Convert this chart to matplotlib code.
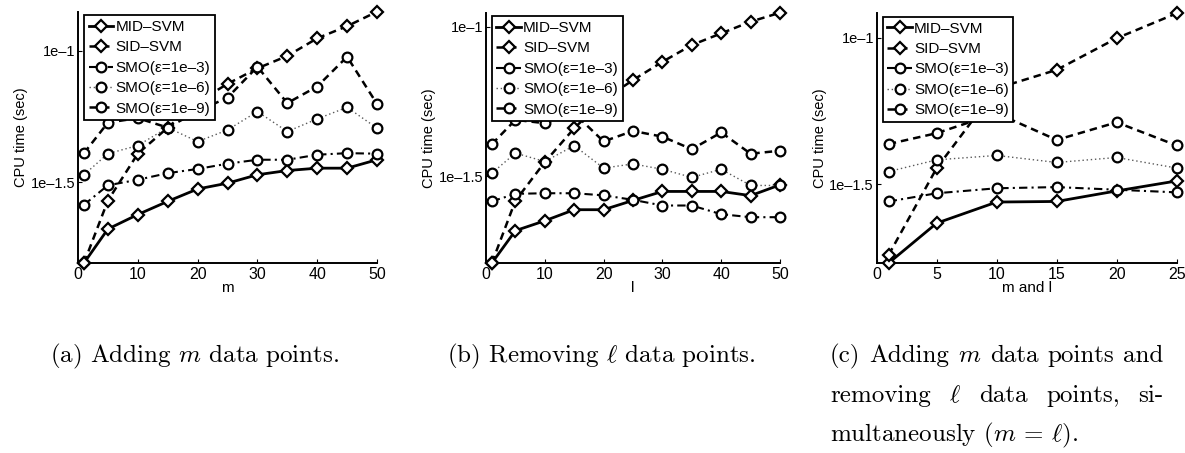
import numpy as np
import matplotlib
matplotlib.use("Agg")
import matplotlib.pyplot as plt

plt.rcParams["mathtext.fontset"] = "cm"

# x values of each panel
x_add = [1, 5, 10, 15, 20, 25, 30, 35, 40, 45, 50]
x_rem = [1, 5, 10, 15, 20, 25, 30, 35, 40, 45, 50]
x_both = [1, 5, 10, 15, 20, 25]

# log10 of CPU time (sec)
mid_a = [-1.806, -1.677, -1.622, -1.572, -1.525, -1.503, -1.471, -1.455, -1.446, -1.446, -1.414]
sid_a = [-1.806, -1.569, -1.391, -1.292, -1.195, -1.126, -1.067, -1.020, -0.953, -0.907, -0.852]
smo3_a = [-1.585, -1.511, -1.490, -1.465, -1.449, -1.429, -1.414, -1.414, -1.395, -1.389, -1.391]
smo6_a = [-1.471, -1.391, -1.360, -1.292, -1.345, -1.301, -1.231, -1.307, -1.259, -1.215, -1.294]
smo9_a = [-1.389, -1.273, -1.256, -1.292, -1.230, -1.178, -1.061, -1.199, -1.136, -1.023, -1.202]

mid_b = [-1.789, -1.681, -1.648, -1.611, -1.611, -1.580, -1.550, -1.550, -1.550, -1.564, -1.528]
sid_b = [-1.789, -1.581, -1.452, -1.339, -1.244, -1.178, -1.117, -1.061, -1.022, -0.983, -0.953]
smo3_b = [-1.583, -1.558, -1.556, -1.556, -1.563, -1.578, -1.597, -1.597, -1.626, -1.636, -1.636]
smo6_b = [-1.489, -1.422, -1.450, -1.397, -1.472, -1.458, -1.476, -1.503, -1.476, -1.530, -1.530]
smo9_b = [-1.392, -1.311, -1.322, -1.289, -1.383, -1.348, -1.367, -1.409, -1.353, -1.424, -1.414]

mid_c = [-1.769, -1.633, -1.561, -1.559, -1.523, -1.489]
sid_c = [-1.741, -1.445, -1.173, -1.110, -1.002, -0.917]
smo3_c = [-1.559, -1.531, -1.514, -1.510, -1.519, -1.528]
smo6_c = [-1.457, -1.417, -1.402, -1.426, -1.409, -1.445]
smo9_c = [-1.363, -1.326, -1.258, -1.349, -1.289, -1.368]

labels = ["MID\u2013SVM", "SID\u2013SVM", "SMO(\u03b5=1e\u20133)", "SMO(\u03b5=1e\u20136)", "SMO(\u03b5=1e\u20139)"]
styles = [dict(ls="-", marker="D", lw=2.0, ms=6),
          dict(ls=(0, (3, 2)), marker="D", lw=1.8, ms=6),
          dict(ls=(0, (4, 2, 1, 2)), marker="o", lw=1.5, ms=7),
          dict(ls=(0, (1, 2)), marker="o", lw=1.0, ms=7, color="0.35"),
          dict(ls=(0, (3, 2)), marker="o", lw=1.8, ms=7)]

TF = "Liberation Sans"

fig = plt.figure(figsize=(11.85, 4.53), dpi=100)
W, H = 1185.0, 453.0
rects = [(78, 377, 11.7), (486, 780, 12.7), (876.7, 1176.7, 13.3)]
panels = [(x_add, [mid_a, sid_a, smo3_a, smo6_a, smo9_a], (0, 50), [0, 10, 20, 30, 40, 50], "m"),
          (x_rem, [mid_b, sid_b, smo3_b, smo6_b, smo9_b], (0, 50), [0, 10, 20, 30, 40, 50], "l"),
          (x_both, [mid_c, sid_c, smo3_c, smo6_c, smo9_c], (0, 25), [0, 5, 10, 15, 20, 25], "m and l")]

for (l, r, t), (xs, series, xlim, xt, xl) in zip(rects, panels):
    ax = fig.add_axes([l / W, (H - 263) / H, (r - l) / W, (263 - t) / H])
    lo = min(min(s) for s in series)
    hi = max(max(s) for s in series)
    for s, lab, st in zip(series, labels, styles):
        st = dict(st)
        col = st.pop("color", "black")
        ax.plot(xs, 10 ** np.array(s), color=col, label=lab,
                markerfacecolor="white", markeredgecolor="black",
                markeredgewidth=1.6, clip_on=False, zorder=3, **st)
    ax.set_yscale("log")
    ax.set_ylim(10 ** lo, 10 ** hi)
    ax.set_xlim(*xlim)
    ax.set_xticks(xt)
    ax.set_xticklabels([str(v) for v in xt], fontfamily=TF, fontsize=11.5)
    ax.set_yticks([10 ** -1.5, 10 ** -1])
    ax.set_yticklabels(["1e\u20131.5", "1e\u20131"], fontfamily=TF, fontsize=10.5)
    ax.yaxis.set_minor_locator(matplotlib.ticker.NullLocator())
    ax.tick_params(direction="in", length=3, width=0.8, pad=2)
    ax.tick_params(axis="x", pad=3)
    for sp in ("top", "right"):
        ax.spines[sp].set_visible(False)
    for sp in ("left", "bottom"):
        ax.spines[sp].set_linewidth(1.4)
    ax.set_xlabel(xl, fontfamily=TF, fontsize=11, labelpad=-1)
    ax.set_ylabel("CPU time (sec)", fontfamily=TF, fontsize=10.5, labelpad=2)
    leg = ax.legend(loc="upper left", bbox_to_anchor=(0.02, 0.985), prop=dict(family=TF, size=11),
                    frameon=True, fancybox=False, framealpha=1, edgecolor="black",
                    handlelength=1.6, handletextpad=0.15, borderpad=0.3, labelspacing=0.42,
                    borderaxespad=0.0)
    leg.get_frame().set_linewidth(1.3)
    leg.set_zorder(5)

# captions
CF = dict(fontfamily="cmr10", fontsize=18, color="black")
fig.text(50 / W, 1 - 362 / H, "(a) Adding $m$ data points.", ha="left", va="baseline", **CF)
fig.text(447 / W, 1 - 362 / H, "(b) Removing $\\ell$ data points.", ha="left", va="baseline", **CF)

renderer = fig.canvas.get_renderer()


def justified(words, x0, x1, ybase):
    objs = [fig.text(0, 1 - ybase / H, w, ha="left", va="baseline", **CF) for w in words]
    widths = [o.get_window_extent(renderer).width for o in objs]
    gap = (x1 - x0 - sum(widths)) / (len(words) - 1)
    x = x0
    for o, w in zip(objs, widths):
        o.set_x(x / W)
        x += w + gap


justified(["(c)", "Adding", "$m$", "data", "points", "and"], 830, 1163, 362)
justified(["removing", "$\\ell$", "data", "points,", "si-"], 830, 1163, 402)
fig.text(830 / W, 1 - 441 / H, "multaneously ($m$ = $\\ell$).", ha="left", va="baseline", **CF)

fig.savefig("out.png", dpi=100)
